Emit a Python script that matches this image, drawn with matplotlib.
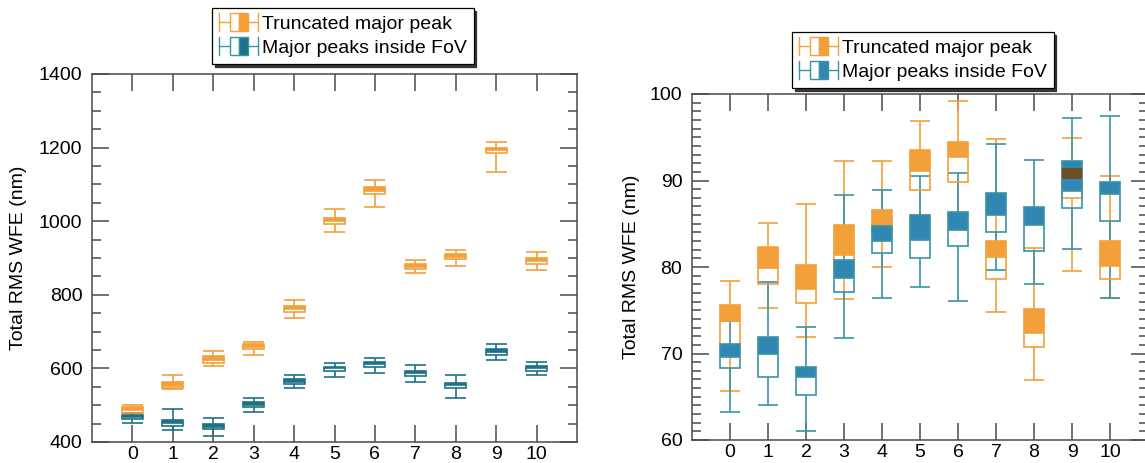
import matplotlib

matplotlib.use("Agg")
import matplotlib.pyplot as plt
from matplotlib.legend_handler import HandlerBase
from matplotlib.lines import Line2D
from matplotlib.patches import Patch, Rectangle
from matplotlib.ticker import MultipleLocator

plt.rcParams["font.family"] = ["Liberation Sans", "DejaVu Sans"]

POSITIONS = list(range(11))
TICK_LABELS = [str(p) for p in POSITIONS]
LABEL_TRUNC = "Truncated major peak"
LABEL_FOV = "Major peaks inside FoV"
Y_LABEL = "Total RMS WFE (nm)"

# left panel: lower whisker, Q1, median, Q3, upper whisker
LEFT_TRUNC_LO = [470, 543, 607, 637, 738, 972, 1039, 858, 877, 1134, 868]
LEFT_TRUNC_Q1 = [478, 547, 616, 652, 754, 992, 1075, 870, 896, 1184, 885]
LEFT_TRUNC_MED = [488, 553, 623, 659, 762, 1000, 1083, 876, 903, 1193, 893]
LEFT_TRUNC_Q3 = [496, 562, 634, 666, 770, 1008, 1092, 883, 910, 1200, 901]
LEFT_TRUNC_HI = [500, 581, 647, 673, 785, 1033, 1113, 894, 921, 1216, 917]

LEFT_FOV_LO = [452, 433, 417, 482, 548, 576, 587, 563, 520, 622, 582]
LEFT_FOV_Q1 = [462, 443, 436, 494, 557, 594, 604, 580, 548, 636, 593]
LEFT_FOV_MED = [467, 452, 442, 501, 563, 600, 611, 587, 555, 645, 600]
LEFT_FOV_Q3 = [473, 460, 449, 508, 570, 605, 618, 593, 561, 652, 607]
LEFT_FOV_HI = [480, 489, 464, 519, 582, 616, 629, 609, 582, 667, 618]

# right panel
RIGHT_TRUNC_LO = [65.7, 75.3, 71.95, 76.25, 80.0, 86.0, 86.0, 74.8, 66.9, 79.5, 76.4]
RIGHT_TRUNC_Q1 = [70.95, 78.05, 75.8, 79.7, 83.7, 88.9, 89.8, 78.6, 70.8, 88.0, 78.6]
RIGHT_TRUNC_MED = [73.7, 79.9, 77.5, 81.4, 84.7, 91.1, 92.7, 81.1, 72.4, 90.2, 80.1]
RIGHT_TRUNC_Q3 = [75.6, 82.3, 80.2, 84.8, 86.6, 93.5, 94.4, 83.05, 75.1, 91.4, 83.05]
RIGHT_TRUNC_HI = [78.4, 85.1, 87.3, 92.3, 92.3, 96.85, 99.2, 94.8, 82.2, 94.9, 90.5]

RIGHT_FOV_LO = [63.2, 64.1, 61.0, 71.8, 76.4, 77.7, 76.1, 79.7, 78.0, 82.1, 76.4]
RIGHT_FOV_Q1 = [68.3, 67.3, 65.2, 77.1, 81.6, 81.05, 82.4, 84.1, 81.9, 86.8, 85.3]
RIGHT_FOV_MED = [69.6, 70.0, 67.3, 78.7, 83.0, 83.1, 84.3, 86.0, 84.8, 88.8, 88.4]
RIGHT_FOV_Q3 = [71.1, 71.9, 68.45, 80.8, 84.7, 86.05, 86.4, 88.6, 86.9, 92.3, 89.8]
RIGHT_FOV_HI = [73.7, 78.25, 73.1, 88.3, 88.9, 90.5, 90.9, 94.2, 92.4, 97.2, 97.5]

ORANGE = "#F4A03A"
TEAL_EDGE = "#3A93A6"
TEAL_FILL = "#3087B2"
TEAL_DARK = "#1F7189"
OVERLAP = "#6C5128"
AXIS_GREY = "#4a4a4a"


class BoxHandler(HandlerBase):
    """Legend icon: |-[open|filled]-| drawn sideways."""

    def __init__(self, edge, fill):
        super().__init__()
        self.edge = edge
        self.fill = fill

    def create_artists(self, legend, orig_handle, xdescent, ydescent, width, height, fontsize, trans):
        x0, y0 = -xdescent, -ydescent
        ym = y0 + height / 2
        h = height * 1.2
        lw = 1.0
        arts = [
            Line2D([x0, x0 + width], [ym, ym], color=self.edge, lw=lw),
            Line2D([x0, x0], [ym - h / 2, ym + h / 2], color=self.edge, lw=lw),
            Line2D([x0 + width, x0 + width], [ym - h / 2, ym + h / 2], color=self.edge, lw=lw),
            Rectangle((x0 + 0.27 * width, ym - h / 2), 0.23 * width, h,
                      facecolor="white", edgecolor=self.edge, lw=lw),
            Rectangle((x0 + 0.5 * width, ym - h / 2), 0.23 * width, h,
                      facecolor=self.fill, edgecolor=self.edge, lw=lw),
        ]
        for a in arts:
            a.set_transform(trans)
        return arts


def draw_boxes(ax, series, width, lw):
    """series: list of (stats, edge colour, fill colour); stats = lo, q1, med, q3, hi."""
    half = width / 2
    for stats, ec, fc in series:
        for x, lo, q1, md, q3, hi in zip(POSITIONS, *stats):
            ax.add_patch(Rectangle((x - half, q1), width, md - q1, facecolor="white",
                                   edgecolor="none", zorder=1))
    for stats, ec, fc in series:
        for x, lo, q1, md, q3, hi in zip(POSITIONS, *stats):
            ax.vlines([x, x], [lo, q3], [q1, hi], color=ec, lw=lw, zorder=2)
            ax.hlines([lo, hi], x - half, x + half, color=ec, lw=lw, zorder=2)
    for stats, ec, fc in series:
        for x, lo, q1, md, q3, hi in zip(POSITIONS, *stats):
            ax.add_patch(Rectangle((x - half, md), width, q3 - md, facecolor=fc,
                                   edgecolor="none", zorder=3))
            ax.add_patch(Rectangle((x - half, q1), width, q3 - q1, fill=False,
                                   edgecolor=ec, lw=lw, zorder=3))
            ax.hlines(md, x - half, x + half, color=ec, lw=lw, zorder=3)
    # where the two filled halves overlap the colours mix to brown
    (s1, _, _), (s2, _, _) = series
    for i, x in enumerate(POSITIONS):
        a = max(s1[2][i], s2[2][i])
        b = min(s1[3][i], s2[3][i])
        if b > a:
            ax.add_patch(Rectangle((x - half, a), width, b - a, facecolor=OVERLAP,
                                   edgecolor="none", zorder=3.5))


def style_axis(ax, ylim, major, minor):
    ax.set_xlim(-1, 11)
    ax.set_ylim(*ylim)
    ax.set_xticks(POSITIONS)
    ax.set_xticklabels(TICK_LABELS)
    ax.yaxis.set_major_locator(MultipleLocator(major))
    ax.yaxis.set_minor_locator(MultipleLocator(minor))
    ax.tick_params(which="both", direction="in", top=True, right=True,
                   color=AXIS_GREY, width=1.1, labelsize=14)
    ax.tick_params(which="major", length=12.5)
    ax.tick_params(which="minor", length=6.5)
    ax.tick_params(axis="x", pad=3)
    ax.tick_params(axis="y", pad=7)
    for sp in ax.spines.values():
        sp.set_color(AXIS_GREY)
        sp.set_linewidth(1.1)
    ax.set_ylabel(Y_LABEL, fontsize=14)


def add_legend(ax, fill, anchor):
    h1 = Patch(facecolor=ORANGE, label=LABEL_TRUNC)
    h2 = Patch(facecolor=fill, label=LABEL_FOV)
    leg = ax.legend(
        handles=[h1, h2],
        handler_map={h1: BoxHandler(ORANGE, ORANGE), h2: BoxHandler(TEAL_EDGE, fill)},
        loc="upper center", bbox_to_anchor=anchor, bbox_transform=ax.figure.transFigure,
        fontsize=14, frameon=True, fancybox=False, shadow={"color": "0.15", "alpha": 0.9},
        edgecolor="black", framealpha=1, handlelength=2.0, handleheight=0.8,
        handletextpad=0.2, labelspacing=0.3, borderpad=0.35, borderaxespad=0,
    )
    leg.get_frame().set_linewidth(0.9)
    leg.set_zorder(10)


fig = plt.figure(figsize=(11.45, 4.63), dpi=100)
ax_left = fig.add_axes([92 / 1145, 1 - 442 / 463, 485 / 1145, 368 / 463])
ax_right = fig.add_axes([692 / 1145, 1 - 440 / 463, 456 / 1145, 346 / 463])

left_series = [
    ((LEFT_TRUNC_LO, LEFT_TRUNC_Q1, LEFT_TRUNC_MED, LEFT_TRUNC_Q3, LEFT_TRUNC_HI), ORANGE, ORANGE),
    ((LEFT_FOV_LO, LEFT_FOV_Q1, LEFT_FOV_MED, LEFT_FOV_Q3, LEFT_FOV_HI), TEAL_DARK, TEAL_DARK),
]
right_series = [
    ((RIGHT_TRUNC_LO, RIGHT_TRUNC_Q1, RIGHT_TRUNC_MED, RIGHT_TRUNC_Q3, RIGHT_TRUNC_HI), ORANGE, ORANGE),
    ((RIGHT_FOV_LO, RIGHT_FOV_Q1, RIGHT_FOV_MED, RIGHT_FOV_Q3, RIGHT_FOV_HI), TEAL_EDGE, TEAL_FILL),
]

draw_boxes(ax_left, left_series, 0.52, 1.2)
style_axis(ax_left, (400, 1400), 200, 50)
ax_left.yaxis.set_label_coords(-0.134, 0.5)
add_legend(ax_left, TEAL_DARK, (343 / 1145, 1 - 8 / 463))

draw_boxes(ax_right, right_series, 0.52, 1.2)
style_axis(ax_right, (60, 100), 10, 1)
ax_right.yaxis.set_label_coords(-0.114, 0.5)
add_legend(ax_right, TEAL_FILL, (923 / 1145, 1 - 32 / 463))

fig.savefig("out.png", dpi=100)
